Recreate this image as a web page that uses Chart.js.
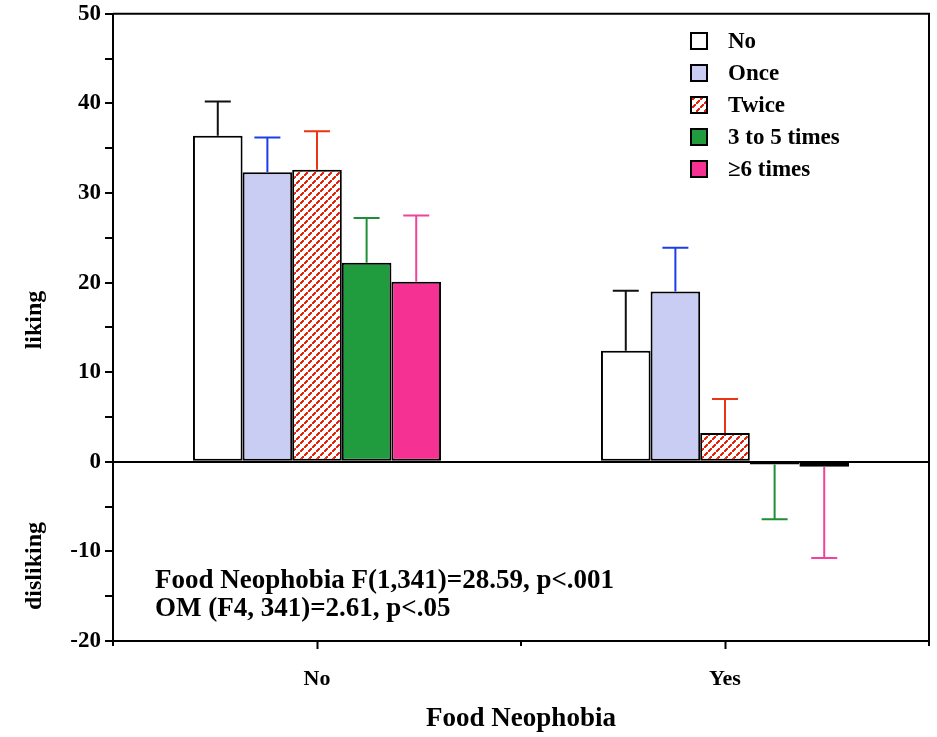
<!DOCTYPE html>
<html>
<head>
<meta charset="utf-8">
<script src="https://cdn.jsdelivr.net/npm/chart.js@4.4.1/dist/chart.umd.min.js"></script>
<style>
  html, body { margin: 0; padding: 0; background: #fff; }
  #box-chart { width: 937px; height: 737px; }
</style>
</head>
<body>
<div id="box-chart"><canvas id="BarChart1" width="937" height="737"></canvas></div>
<script>
// groups on the x axis
var categorias = ['No', 'Yes'];
// liking means per exposure group
var valNo     = [36.4, 12.4];
var valOnce   = [32.3, 19.0];
var valTwice  = [32.6, 3.2];
var valTres   = [22.2, -0.3];
var valSeis   = [20.1, -0.55];
// error bar lengths (drawn away from zero)
var errNo     = [3.8, 6.7];
var errOnce   = [3.9, 4.9];
var errTwice  = [4.3, 3.8];
var errTres   = [5.0, 6.1];
var errSeis   = [7.4, 10.2];
var legendas  = ['No', 'Once', 'Twice', '3 to 5 times', '\u22656 times'];
var notas     = ['Food Neophobia F(1,341)=28.59, p<.001', 'OM (F4, 341)=2.61, p<.05'];

var serif = '"Liberation Serif", "Times New Roman", serif';

// red dashed "/" hatch for the Twice bars
function hachura() {
    var c = document.createElement('canvas');
    c.width = 8; c.height = 8;
    var g = c.getContext('2d');
    g.fillStyle = '#fff';
    g.fillRect(0, 0, 8, 8);
    g.fillStyle = '#e5260c';
    var pts = [[0, 6], [1, 5], [2, 4], [4, 2], [5, 1], [6, 0]];
    for (var i = 0; i < pts.length; i++) {
        g.fillRect(pts[i][0], pts[i][1], 2, 2);
    }
    return g.createPattern(c, 'repeat');
}

var ctx = document.getElementById('BarChart1').getContext('2d');
var padrao = hachura();

var cores    = ['#ffffff', '#c9ccf3', padrao, '#209c3e', '#f53294'];
var coresErr = ['#111111', '#1c3ee8', '#ea3413', '#1e8f36', '#f1429c'];
var valores  = [valNo, valOnce, valTwice, valTres, valSeis];
var erros    = [errNo, errOnce, errTwice, errTres, errSeis];

var datasets = [];
for (var i = 0; i < legendas.length; i++) {
    datasets.push({
        label: legendas[i],
        data: valores[i],
        backgroundColor: cores[i],
        borderColor: '#000',
        borderWidth: 2,
        borderSkipped: false
    });
}

// error bars, frame, minor ticks, legend and notes
var extras = {
    id: 'extras',
    afterDatasetsDraw: function (chart) {
        var c = chart.ctx, y = chart.scales.y, x = chart.scales.x;
        var a = chart.chartArea;
        c.save();
        // error bars
        for (var i = 0; i < erros.length; i++) {
            var meta = chart.getDatasetMeta(i);
            for (var j = 0; j < erros[i].length; j++) {
                var v = valores[i][j];
                var fim = v >= 0 ? v + erros[i][j] : v - erros[i][j];
                var px = meta.data[j].x;
                var y0 = y.getPixelForValue(v), y1 = y.getPixelForValue(fim);
                c.strokeStyle = coresErr[i];
                c.lineWidth = 2;
                c.beginPath();
                c.moveTo(px, y0); c.lineTo(px, y1);
                c.moveTo(px - 13, y1); c.lineTo(px + 13, y1);
                c.stroke();
            }
        }
        // frame top and right
        c.strokeStyle = '#000';
        c.lineWidth = 2;
        c.beginPath();
        c.moveTo(a.left, a.top); c.lineTo(a.right, a.top); c.lineTo(a.right, a.bottom);
        c.stroke();
        // minor x ticks between groups
        c.beginPath();
        var meio = (x.getPixelForValue(0) + x.getPixelForValue(1)) / 2;
        c.moveTo(meio, a.bottom); c.lineTo(meio, a.bottom + 5);
        c.moveTo(a.right, a.bottom); c.lineTo(a.right, a.bottom + 5);
        c.moveTo(a.left, a.bottom); c.lineTo(a.left, a.bottom + 5);
        c.stroke();
        // legend
        c.font = 'bold 23px ' + serif;
        c.textBaseline = 'middle';
        c.textAlign = 'left';
        for (var k = 0; k < legendas.length; k++) {
            var ly = 41 + k * 32;
            c.fillStyle = cores[k];
            c.fillRect(691, ly - 8, 16, 16);
            c.strokeStyle = '#000';
            c.lineWidth = 2;
            c.strokeRect(691, ly - 8, 16, 16);
            c.fillStyle = '#000';
            c.fillText(legendas[k], 728, ly + 1);
        }
        // statistics
        c.font = 'bold 27px ' + serif;
        c.fillText(notas[0], 155, 581);
        c.fillText(notas[1], 155, 609);
        // y titles
        c.font = 'bold 24px ' + serif;
        c.textAlign = 'center';
        c.save();
        c.translate(35, 320); c.rotate(-Math.PI / 2);
        c.fillText('liking', 0, 0);
        c.restore();
        c.save();
        c.translate(35, 566); c.rotate(-Math.PI / 2);
        c.fillText('disliking', 0, 0);
        c.restore();
        c.restore();
    }
};

var BarChart = new Chart(ctx, {
    type: 'bar',
    data: { labels: categorias, datasets: datasets },
    plugins: [extras],
    options: {
        responsive: false,
        animation: false,
        layout: { padding: { top: 0, right: 8, left: 0, bottom: 0 } },
        datasets: { bar: { categoryPercentage: 0.608, barPercentage: 1 } },
        plugins: {
            legend: { display: false },
            tooltip: { enabled: false },
            title: { display: false }
        },
        scales: {
            x: {
                offset: true,
                grid: { display: true, drawOnChartArea: false, offset: false, tickLength: 8, tickColor: '#000', tickWidth: 2 },
                border: { display: true, color: '#000', width: 2 },
                ticks: { color: '#000', padding: 17, font: { family: serif, size: 22, weight: 'bold' } },
                title: {
                    display: true, text: 'Food Neophobia', color: '#000',
                    font: { family: serif, size: 27, weight: 'bold' },
                    padding: { top: 0, bottom: 2 }
                },
                afterFit: function (s) { s.height = 96; }
            },
            y: {
                min: -20, max: 50,
                grid: {
                    drawOnChartArea: true,
                    color: function (c) { return c.tick && c.tick.value === 0 ? '#000' : 'rgba(0,0,0,0)'; },
                    lineWidth: 2,
                    tickColor: '#000',
                    tickWidth: 2,
                    tickLength: 8
                },
                border: { display: true, color: '#000', width: 2 },
                ticks: {
                    stepSize: 5, color: '#000', padding: 4,
                    font: { family: serif, size: 23, weight: 'bold', lineHeight: 0.85 },
                    callback: function (v) { return v % 10 === 0 ? v : ''; }
                },
                afterFit: function (s) { s.width = 113; }
            }
        }
    }
});
</script>
</body>
</html>
